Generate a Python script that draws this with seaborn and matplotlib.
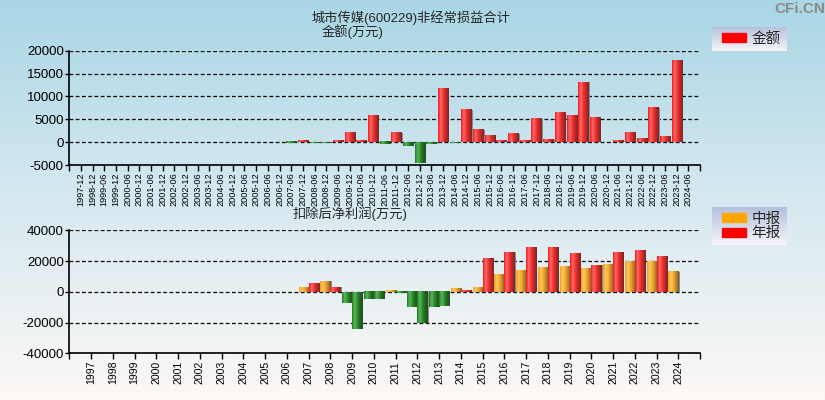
import numpy as np
import pandas as pd
import matplotlib
matplotlib.use('Agg')
import matplotlib.pyplot as plt
import seaborn as sns
from matplotlib.colors import LinearSegmentedColormap
from matplotlib.patches import Rectangle, Patch

sns.set_style('ticks')
plt.rcParams['font.family'] = ['Liberation Sans', 'Noto Sans CJK SC', 'DejaVu Sans']
plt.rcParams['axes.unicode_minus'] = False

# top chart: non-recurring gains (万元), half-year periods
periods = ['1997-12', '1998-12', '1999-06', '1999-12', '2000-06', '2000-12', '2001-06', '2001-12',
           '2002-06', '2002-12', '2003-06', '2003-12', '2004-06', '2004-12', '2005-06', '2005-12',
           '2006-06', '2006-12', '2007-06', '2007-12', '2008-06', '2008-12', '2009-06', '2009-12',
           '2010-06', '2010-12', '2011-06', '2011-12', '2012-06', '2012-12', '2013-06', '2013-12',
           '2014-06', '2014-12', '2015-06', '2015-12', '2016-06', '2016-12', '2017-06', '2017-12',
           '2018-06', '2018-12', '2019-06', '2019-12', '2020-06', '2020-12', '2021-06', '2021-12',
           '2022-06', '2022-12', '2023-06', '2023-12', '2024-06']
nonrecurring = [None, None, None, None, None, None, None, None,
                None, None, None, None, None, None, None, None,
                None, None, -220, 290, -200, -200, 290, 2050,
                290, 5730, -500, 2050, -800, -4500, -430, 11600,
                -200, 7030, 2680, 1380, 290, 1810, 290, 5050,
                510, 6380, 5730, 13120, 5290, None, 290, 2030,
                725, 7470, 1160, 17900, None]

# bottom chart: net profit after deductions (万元)
years = ['1997', '1998', '1999', '2000', '2001', '2002', '2003', '2004', '2005', '2006',
         '2007', '2008', '2009', '2010', '2011', '2012', '2013', '2014', '2015', '2016',
         '2017', '2018', '2019', '2020', '2021', '2022', '2023', '2024']
interim = [None] * 10 + [3250, 7150, -7150, -5000, 1300, -9760, -9760, 2600, 3250, 11700,
                         13660, 15610, 16910, 14960, 18210, 19730, 20160, 13010]
annual = [None] * 10 + [5850, 3250, -24060, -4800, -800, -20600, -9320, 1300, 22110, 26000,
                        28620, 28620, 24720, 17560, 26000, 26670, 23410, None]

df_top = pd.DataFrame({'period': periods, 'value': nonrecurring}).dropna()
df_bot = pd.concat([
    pd.DataFrame({'year': years, 'report': '中报', 'value': interim}),
    pd.DataFrame({'year': years, 'report': '年报', 'value': annual}),
]).dropna()

red_cm = LinearSegmentedColormap.from_list('r', ['#f01818', '#ff6c6c', '#f53030', '#c02626', '#6e2a2a'])
org_cm = LinearSegmentedColormap.from_list('o', ['#f0a020', '#ffc860', '#f5aa30', '#c08428', '#7a5a28'])
grn_cm = LinearSegmentedColormap.from_list('g', ['#1f7a1f', '#5cb85c', '#2e8e2e', '#1e641e', '#2a4a2a'])


def cylinders(ax, sdx):
    grad = np.linspace(0, 1, 64).reshape(1, -1)
    for p in list(ax.patches):
        h = p.get_height()
        if not np.isfinite(h) or h == 0:
            p.set_visible(False)
            continue
        x0, y0, w = p.get_x(), p.get_y(), p.get_width()
        lo, hi = min(y0, y0 + h), max(y0, y0 + h)
        fc = p.get_facecolor()
        if h < 0:
            cm = grn_cm
        elif fc[1] > 0.4:
            cm = org_cm
        else:
            cm = red_cm
        # thin grey shadow on the right side
        ax.add_patch(Rectangle((x0 + w, lo), sdx, hi - lo, color='#8c8c8c', lw=0, zorder=2.4))
        ax.imshow(grad, cmap=cm, extent=(x0, x0 + w, lo, hi), aspect='auto',
                  interpolation='bilinear', zorder=2.5)
        p.set_visible(False)


def style_axis(ax):
    ax.set_facecolor('none')
    ax.set_axisbelow(True)
    ax.yaxis.grid(True, linestyle=(0, (3, 2)), color='black', linewidth=0.9)
    ax.xaxis.grid(False)
    ax.spines[['top', 'right']].set_visible(False)
    for s in ['left', 'bottom']:
        ax.spines[s].set_color('black')
        ax.spines[s].set_linewidth(1.2)
    ax.tick_params(axis='y', length=3, width=1, pad=1, labelsize=9.5, colors='black')
    ax.tick_params(axis='x', length=4, width=1, pad=1.5, colors='black')
    ax.set_xlabel('')
    ax.set_ylabel('')


fig = plt.figure(figsize=(8.25, 4), dpi=100)

# background gradient
bg = fig.add_axes([0, 0, 1, 1], zorder=-10)
bg_cm = LinearSegmentedColormap.from_list('bg', ['#aad6e6', '#d6e9f0', '#fdf8f6'])
bg.imshow(np.linspace(0, 1, 256).reshape(-1, 1), cmap=bg_cm, aspect='auto', extent=(0, 1, 0, 1))
bg.axis('off')

ax1 = fig.add_axes([0.084, 0.5875, 0.7645, 0.2858])
sns.barplot(data=df_top, x='period', y='value', order=periods, color='red',
            width=0.86, errorbar=None, ax=ax1)
cylinders(ax1, 0.12)
style_axis(ax1)
ax1.set_xticks(range(-1, len(periods) + 1))
ax1.set_xticklabels([''] + periods + [''], rotation=90, fontsize=6.6)
ax1.set_xlim(-1, len(periods))
ax1.set_ylim(-5000, 20000)
ax1.set_yticks(range(-5000, 20001, 5000))

ax2 = fig.add_axes([0.084, 0.1168, 0.7645, 0.3075])
sns.barplot(data=df_bot, x='year', y='value', hue='report', order=years,
            hue_order=['中报', '年报'], palette=['#FFA500', '#FF0000'],
            width=0.92, errorbar=None, legend=False, ax=ax2)
cylinders(ax2, 0.06)
style_axis(ax2)
ax2.set_xticks(range(-1, len(years) + 1))
ax2.set_xticklabels([''] + years + [''], rotation=90, fontsize=7.6)
ax2.set_xlim(-1, len(years))
ax2.set_ylim(-40000, 40000)
ax2.set_yticks(range(-40000, 40001, 20000))

# titles
fig.text(0.498, 0.955, '城市传媒(600229)非经常损益合计', ha='center', va='center', fontsize=9.5)
fig.text(0.390, 0.92, '金额(万元)', ha='left', va='center', fontsize=9.5)
fig.text(0.424, 0.466, '扣除后净利润(万元)', ha='center', va='center', fontsize=9.5)
fig.text(0.97, 0.977, 'CFi.CN', ha='center', va='center', fontsize=11,
         fontweight='bold', color='#8a8a8a')

# legend boxes with gradient
leg_cm = LinearSegmentedColormap.from_list('lg', ['#b4c0dc', '#f6f4f8'])
for rect, handles in [
    ([712 / 825, 1 - 51 / 400, 75 / 825, 24 / 400], [Patch(color='#FF0000', label='金额')]),
    ([712 / 825, 1 - 245 / 400, 75 / 825, 38 / 400],
     [Patch(color='#FFA500', label='中报'), Patch(color='#FF0000', label='年报')]),
]:
    lax = fig.add_axes(rect, zorder=5)
    lax.imshow(np.linspace(0, 1, 64).reshape(-1, 1), cmap=leg_cm, aspect='auto', extent=(0, 1, 0, 1))
    lax.axis('off')
    lax.legend(handles=handles, loc='center left', bbox_to_anchor=(0.02, 0.5), frameon=False,
               fontsize=10.5, handlelength=1.6, handleheight=0.6, handletextpad=0.4,
               labelspacing=0.05, borderpad=0.1)

fig.savefig('out.png', dpi=100)
